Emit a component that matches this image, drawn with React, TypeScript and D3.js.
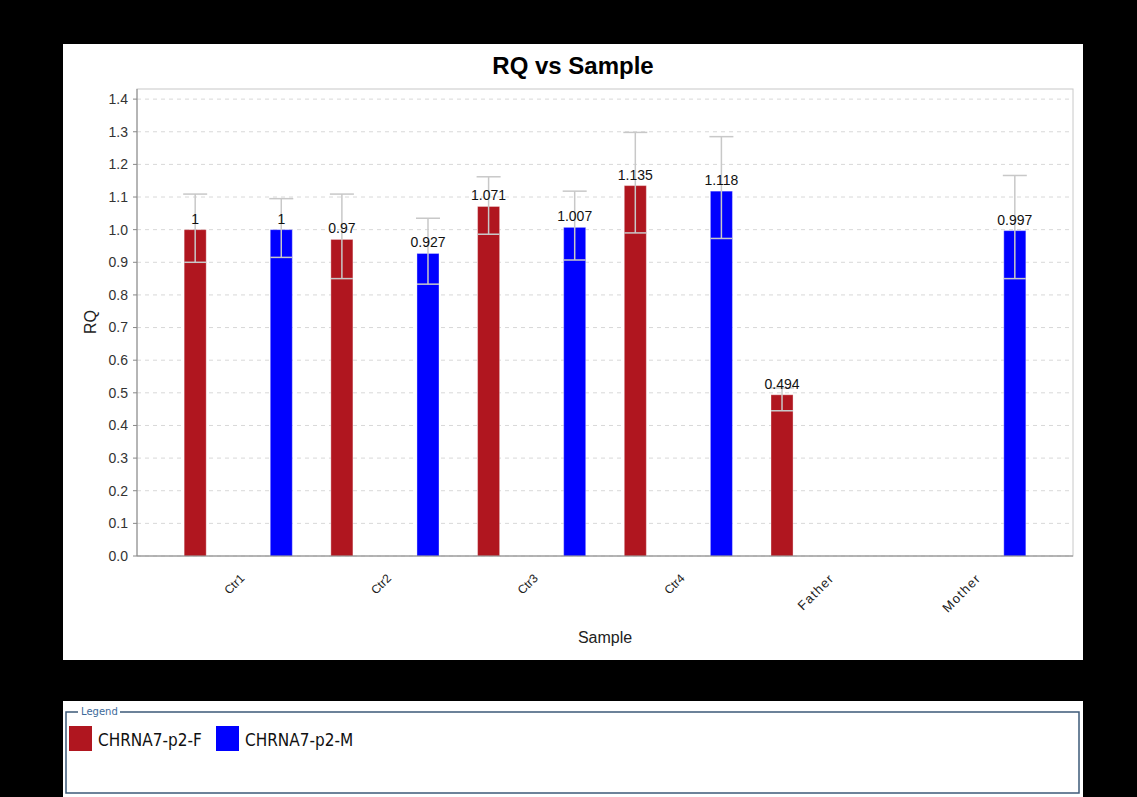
import React from "react";
import * as d3 from "d3";

const categories = ["Ctr1", "Ctr2", "Ctr3", "Ctr4", "Father", "Mother"];
const seriesNames = ["CHRNA7-p2-F", "CHRNA7-p2-M"];
const seriesColors = ["#B0161F", "#0000FF"];
const fValues: (number | null)[] = [1, 0.97, 1.071, 1.135, 0.494, null];
const fLower: (number | null)[] = [0.9, 0.85, 0.986, 0.99, 0.445, null];
const fUpper: (number | null)[] = [1.109, 1.109, 1.162, 1.298, 0.515, null];
const mValues: (number | null)[] = [1, 0.927, 1.007, 1.118, null, 0.997];
const mLower: (number | null)[] = [0.915, 0.833, 0.907, 0.973, null, 0.85];
const mUpper: (number | null)[] = [1.095, 1.035, 1.118, 1.285, null, 1.166];
const yTicks = [0, 0.1, 0.2, 0.3, 0.4, 0.5, 0.6, 0.7, 0.8, 0.9, 1.0, 1.1, 1.2, 1.3, 1.4];
const valueLabels: (string | null)[][] = [
  ["1", "0.97", "1.071", "1.135", "0.494", null],
  ["1", "0.927", "1.007", "1.118", null, "0.997"],
];

const W = 1137;
const H = 797;
const plot = { left: 137, right: 1073, top: 89, bottom: 556 };

export default function App() {
  const x = d3
    .scaleBand<string>()
    .domain(categories)
    .range([plot.left, plot.right])
    .paddingInner(0)
    .paddingOuter(0.19);
  const inner = d3
    .scaleBand<string>()
    .domain(seriesNames)
    .range([0, x.bandwidth()])
    .paddingInner(0.744)
    .paddingOuter(0.224);
  const y = d3.scaleLinear().domain([0, 1.431]).range([plot.bottom, plot.top]);

  const series = [
    { name: seriesNames[0], color: seriesColors[0], values: fValues, lo: fLower, hi: fUpper, labels: valueLabels[0] },
    { name: seriesNames[1], color: seriesColors[1], values: mValues, lo: mLower, hi: mUpper, labels: valueLabels[1] },
  ];
  const capW = 24;
  const font = "'Liberation Sans', Arial, sans-serif";

  return (
    <svg
      width={W}
      height={H}
      style={{ position: "absolute", left: 0, top: 0, display: "block" }}
      fontFamily={font}
    >
      <rect x={0} y={0} width={W} height={H} fill="#000" />
      {/* chart panel */}
      <rect x={63} y={44} width={1020} height={616} fill="#fff" />
      <text x={573} y={74} textAnchor="middle" fontSize={24} fontWeight="bold" fill="#000">
        RQ vs Sample
      </text>

      {/* gridlines */}
      {yTicks.map((t) => (
        <line
          key={"g" + t}
          x1={plot.left}
          x2={plot.right}
          y1={y(t)}
          y2={y(t)}
          stroke="#d8d8d8"
          strokeDasharray="4,4"
          strokeWidth={1}
        />
      ))}
      {/* plot outline */}
      <rect
        x={plot.left}
        y={plot.top}
        width={plot.right - plot.left}
        height={plot.bottom - plot.top}
        fill="none"
        stroke="#c8c8c8"
      />
      {/* y ticks */}
      {yTicks.map((t) => (
        <g key={"t" + t}>
          <line x1={plot.left - 4} x2={plot.left} y1={y(t)} y2={y(t)} stroke="#888" />
          <text x={128} y={y(t)} dy="0.35em" textAnchor="end" fontSize={14} fill="#333">
            {t.toFixed(1)}
          </text>
        </g>
      ))}

      {/* bars */}
      {series.map((s) =>
        categories.map((c, i) => {
          const v = s.values[i];
          if (v == null) return null;
          const bx = (x(c) as number) + (inner(s.name) as number);
          const bw = inner.bandwidth();
          return (
            <rect
              key={s.name + c}
              x={bx}
              y={y(v)}
              width={bw}
              height={y(0) - y(v)}
              fill={s.color}
              stroke="rgba(255,255,255,0.35)"
              strokeWidth={1}
            />
          );
        })
      )}
      {/* error bars */}
      {series.map((s) =>
        categories.map((c, i) => {
          const v = s.values[i];
          const lo = s.lo[i];
          const hi = s.hi[i];
          if (v == null || lo == null || hi == null) return null;
          const cx = (x(c) as number) + (inner(s.name) as number) + inner.bandwidth() / 2;
          return (
            <g key={"e" + s.name + c} stroke="#c8c8c8" strokeWidth={1.5}>
              <line x1={cx} x2={cx} y1={y(lo)} y2={y(hi)} />
              <line x1={cx - capW / 2} x2={cx + capW / 2} y1={y(hi)} y2={y(hi)} />
              <line x1={cx - inner.bandwidth() / 2} x2={cx + inner.bandwidth() / 2} y1={y(lo)} y2={y(lo)} />
            </g>
          );
        })
      )}
      {/* value labels */}
      {series.map((s) =>
        categories.map((c, i) => {
          const v = s.values[i];
          const lab = s.labels[i];
          if (v == null || lab == null) return null;
          const cx = (x(c) as number) + (inner(s.name) as number) + inner.bandwidth() / 2;
          return (
            <text key={"l" + s.name + c} x={cx} y={y(v) - 6} textAnchor="middle" fontSize={14} fill="#111">
              {lab}
            </text>
          );
        })
      )}

      {/* axes lines */}
      <line x1={plot.left} x2={plot.left} y1={plot.top} y2={plot.bottom} stroke="#888" />
      <line x1={plot.left} x2={plot.right} y1={plot.bottom} y2={plot.bottom} stroke="#888" />

      {/* category labels */}
      {categories.map((c) => {
        const cx = (x(c) as number) + x.bandwidth() / 2;
        const big = c === "Father" || c === "Mother";
        const ax = cx + (big ? 10 : 7);
        const ay = 579;
        return (
          <text
            key={"c" + c}
            x={ax}
            y={ay}
            textAnchor="end"
            fontSize={big ? 13 : 12}
            letterSpacing={big ? 1.3 : 0}
            fill="#222"
            transform={`rotate(-45, ${ax}, ${ay})`}
          >
            {c}
          </text>
        );
      })}

      {/* axis titles */}
      <text x={605} y={643} textAnchor="middle" fontSize={16} fill="#222">
        Sample
      </text>
      <text
        x={96}
        y={322}
        textAnchor="middle"
        fontSize={16}
        fill="#222"
        transform="rotate(-90, 96, 322)"
      >
        RQ
      </text>

      {/* legend */}
      <rect x={63} y={701} width={1020} height={96} fill="#fff" />
      <rect x={66} y={712} width={1013} height={81} fill="none" stroke="#3d5a78" strokeWidth={1.5} />
      <rect x={78} y={706} width={42} height={12} fill="#fff" />
      <text x={81} y={715} fontSize={10} fill="#3d6a9a" fontFamily="'DejaVu Sans', sans-serif">
        Legend
      </text>
      {series.map((s, i) => {
        const lx = i === 0 ? 69 : 216;
        return (
          <g key={"lg" + s.name}>
            <rect x={lx} y={726} width={23} height={25} fill={s.color} />
            <text
              x={lx + 29}
              y={746}
              fontSize={17}
              fill="#111"
              fontFamily="'DejaVu Sans Condensed', 'DejaVu Sans', sans-serif"
            >
              {s.name}
            </text>
          </g>
        );
      })}
    </svg>
  );
}
